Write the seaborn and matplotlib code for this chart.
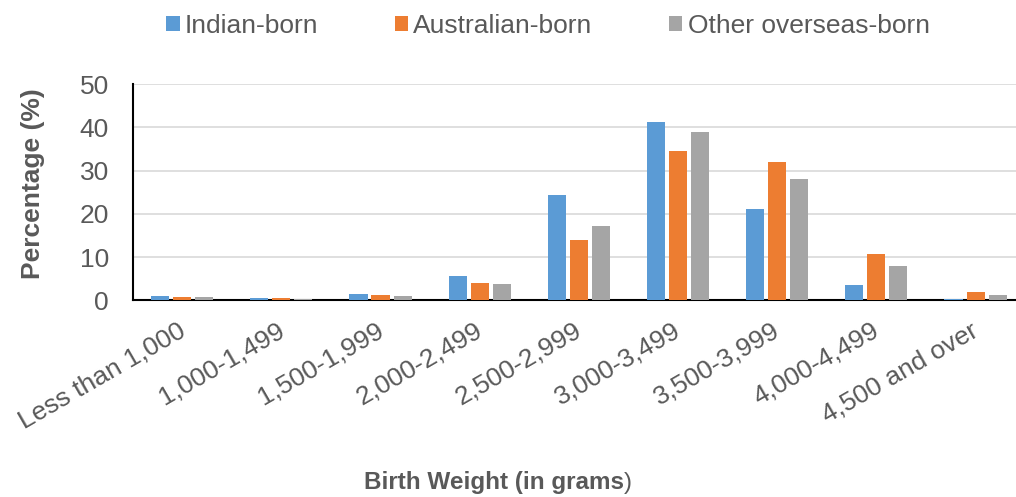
import matplotlib
matplotlib.use("Agg")
import matplotlib.pyplot as plt
import matplotlib.transforms as mtransforms
import seaborn as sns
import pandas as pd

categories = ["Less than 1,000", "1,000-1,499", "1,500-1,999", "2,000-2,499",
              "2,500-2,999", "3,000-3,499", "3,500-3,999", "4,000-4,499",
              "4,500 and over"]
indian_born = [1.1, 0.6, 1.4, 5.7, 24.4, 41.2, 21.1, 3.6, 0.3]
australian_born = [0.8, 0.5, 1.2, 4.0, 14.0, 34.6, 31.9, 10.7, 1.9]
other_overseas_born = [0.8, 0.4, 1.1, 3.7, 17.1, 39.0, 28.1, 8.0, 1.2]
series_names = ["Indian-born", "Australian-born", "Other overseas-born"]
colors = ["#5B9BD5", "#ED7D31", "#A5A5A5"]
y_ticks = [0, 10, 20, 30, 40, 50]

rows = []
for name, vals in zip(series_names, [indian_born, australian_born, other_overseas_born]):
    for cat, v in zip(categories, vals):
        rows.append({"Birth Weight": cat, "Group": name, "Percentage": v})
df = pd.DataFrame(rows)

sns.set_theme(style="white")
plt.rcParams["font.family"] = ["Liberation Sans", "DejaVu Sans"]
text_color = "#595959"

fig = plt.figure(figsize=(10.16, 4.97), dpi=100)
ax = fig.add_axes([0.1305, 0.3958, 0.8785, 0.435])

sns.barplot(data=df, x="Birth Weight", y="Percentage", hue="Group",
            order=categories, hue_order=series_names, palette=colors,
            width=0.667, gap=0.18, saturation=1, linewidth=0, ax=ax, legend=True)
for p in ax.patches:
    p.set_zorder(3)
    p.set_linewidth(0)

ax.set_ylim(0, 50)
ax.set_xlim(-0.5, len(categories) - 0.5)
ax.set_yticks(y_ticks)
ax.yaxis.grid(True, color="#D9D9D9", linewidth=1.2)
ax.set_axisbelow(True)
for s in ["top", "right"]:
    ax.spines[s].set_visible(False)
ax.spines["left"].set_color("black")
ax.spines["left"].set_linewidth(1.5)
ax.spines["bottom"].set_color("black")
ax.spines["bottom"].set_linewidth(1.5)

ax.tick_params(axis="y", labelsize=19, colors=text_color, length=0, pad=17)
ax.tick_params(axis="x", labelsize=19, colors=text_color, length=0, pad=13)
shift = mtransforms.ScaledTranslation(-5 / 100, 0, fig.dpi_scale_trans)
for lbl in ax.get_xticklabels():
    lbl.set_rotation(30)
    lbl.set_ha("right")
    lbl.set_rotation_mode("anchor")
    lbl.set_transform(lbl.get_transform() + shift)

ax.set_ylabel("")
ax.set_xlabel("")
fig.text(33 / 1016, 0.63, "Percentage (%)", fontsize=19, fontweight="bold",
         color=text_color, rotation=90, ha="center", va="center")

# x-axis title: bold text with a regular closing parenthesis
t = fig.text(0.486, 0.016, "Birth Weight (in grams", fontsize=17.5, fontweight="bold",
             color=text_color, ha="center", va="baseline")
fig.canvas.draw()
bb = t.get_window_extent()
fig.text(bb.x1 / fig.bbox.width, 0.016, ")", fontsize=17.5, color=text_color,
         ha="left", va="baseline")

handles, labels = ax.get_legend_handles_labels()
ax.legend_.remove()
fig.legend(handles, labels, loc="center", bbox_to_anchor=(548 / 1016, 0.948),
           ncol=3, frameon=False, fontsize=19, labelcolor=text_color,
           handlelength=0.5, handleheight=0.5, handletextpad=0.2,
           columnspacing=2.9)

fig.savefig("out.png", dpi=100)
